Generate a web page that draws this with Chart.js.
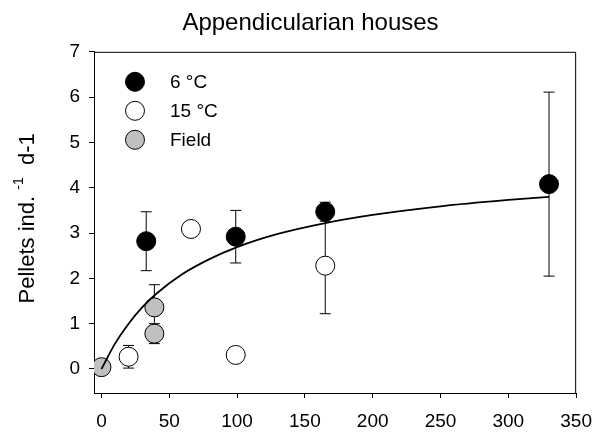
<!DOCTYPE html>
<html>
<head>
<meta charset="utf-8">
<script src="https://cdn.jsdelivr.net/npm/chart.js@4/dist/chart.umd.min.js"></script>
<style>
  body { margin: 0; background: #fff; }
  canvas { display: block; }
</style>
</head>
<body>
<canvas id="housesChart" width="604" height="435"></canvas>
<script>
// pellet production per individual and day
const coldX = [33, 99, 165, 330];
const coldY = [2.82, 2.92, 3.47, 4.08];
const coldErr = [0.65, 0.58, 0.21, 2.03];

const warmX = [20, 66, 99, 165];
const warmY = [0.27, 3.09, 0.31, 2.28];
const warmErr = [0.25, 0, 0, 1.06];

const fieldX = [0, 39, 39];
const fieldY = [0.04, 1.36, 0.78];
const fieldErr = [0, 0.5, 0.22];

// fitted saturation curve
const fitX = [0, 10, 20, 30, 40, 60, 80, 100, 130, 165, 200, 250, 300, 330];
const fitY = [0, 0.56, 1.0, 1.36, 1.65, 2.1, 2.43, 2.69, 2.98, 3.22, 3.4, 3.59, 3.73, 3.8];

const xTicks = [0, 50, 100, 150, 200, 250, 300, 350];
const yTicks = [0, 1, 2, 3, 4, 5, 6, 7];

const FONT = 'Liberation Sans, Arial, sans-serif';

function pts(xs, ys) {
    return xs.map((x, i) => ({x: x, y: ys[i]}));
}

function markers(label, xs, ys, errs, fill) {
    return {
        type: 'scatter',
        label: label,
        data: pts(xs, ys),
        errors: errs,
        backgroundColor: fill,
        borderColor: '#000',
        borderWidth: 1,
        pointRadius: 9.5,
        pointHoverRadius: 9.5,
        order: 1
    };
}

// vertical error bars, drawn under the symbols
const errorBars = {
    id: 'errorBars',
    beforeDatasetsDraw(chart) {
        const ctx = chart.ctx;
        const xs = chart.scales.x, ys = chart.scales.y;
        ctx.save();
        ctx.strokeStyle = '#000';
        ctx.lineWidth = 1;
        chart.data.datasets.forEach(ds => {
            if (!ds.errors) return;
            ds.data.forEach((p, i) => {
                const e = ds.errors[i];
                if (!e) return;
                const px = xs.getPixelForValue(p.x);
                const top = ys.getPixelForValue(p.y + e);
                const bot = ys.getPixelForValue(p.y - e);
                ctx.beginPath();
                ctx.moveTo(px, top); ctx.lineTo(px, bot);
                ctx.moveTo(px - 5.5, top); ctx.lineTo(px + 5.5, top);
                ctx.moveTo(px - 5.5, bot); ctx.lineTo(px + 5.5, bot);
                ctx.stroke();
            });
        });
        ctx.restore();
    }
};

// closes the plot box on top and right
const frame = {
    id: 'frame',
    beforeDatasetsDraw(chart) {
        const a = chart.chartArea, ctx = chart.ctx;
        ctx.save();
        ctx.strokeStyle = '#000';
        ctx.lineWidth = 1;
        ctx.beginPath();
        ctx.moveTo(a.left, a.top + 0.5);
        ctx.lineTo(a.right - 0.5, a.top + 0.5);
        ctx.lineTo(a.right - 0.5, a.bottom);
        ctx.stroke();
        ctx.restore();
    }
};

// y axis title with superscript
const yTitle = {
    id: 'yTitle',
    afterDraw(chart) {
        const ctx = chart.ctx, a = chart.chartArea;
        const main = 'Pellets ind. ', sup = '-1', tail = '  d-1';
        ctx.save();
        ctx.translate(28, (a.top + a.bottom) / 2 - 4);
        ctx.rotate(-Math.PI / 2);
        ctx.fillStyle = '#000';
        ctx.textBaseline = 'middle';
        ctx.font = '22px ' + FONT;
        const w1 = ctx.measureText(main).width;
        const w3 = ctx.measureText(tail).width;
        ctx.font = '14px ' + FONT;
        const w2 = ctx.measureText(sup).width;
        let x = -(w1 + w2 + w3) / 2;
        ctx.font = '22px ' + FONT;
        ctx.fillText(main, x, 0);
        x += w1;
        ctx.font = '14px ' + FONT;
        ctx.fillText(sup, x, -9);
        x += w2;
        ctx.font = '22px ' + FONT;
        ctx.fillText(tail, x, 0);
        ctx.restore();
    }
};

// legend in the upper left corner of the plot
const cornerLegend = {
    id: 'cornerLegend',
    afterDraw(chart) {
        const ctx = chart.ctx, a = chart.chartArea;
        const sets = chart.data.datasets.filter(d => d.errors);
        ctx.save();
        ctx.font = '19px ' + FONT;
        ctx.textBaseline = 'middle';
        sets.forEach((ds, i) => {
            const cx = a.left + 41, cy = a.top + 30 + i * 29;
            ctx.beginPath();
            ctx.arc(cx, cy, 9.5, 0, Math.PI * 2);
            ctx.fillStyle = ds.backgroundColor;
            ctx.fill();
            ctx.lineWidth = 1;
            ctx.strokeStyle = '#000';
            ctx.stroke();
            ctx.fillStyle = '#000';
            ctx.fillText(ds.label, cx + 35, cy + 1);
        });
        ctx.restore();
    }
};

const axisStyle = {
    grid: { drawOnChartArea: false, drawTicks: true, tickLength: 5, color: '#000' },
    border: { display: true, color: '#000', width: 1 }
};

new Chart(document.getElementById('housesChart'), {
    type: 'scatter',
    data: {
        datasets: [
            {
                type: 'line',
                label: 'fit',
                data: pts(fitX, fitY),
                borderColor: '#000',
                borderWidth: 1.8,
                pointRadius: 0,
                fill: false,
                cubicInterpolationMode: 'monotone',
                order: 0
            },
            markers('6 °C', coldX, coldY, coldErr, '#000'),
            markers('15 °C', warmX, warmY, warmErr, '#fff'),
            markers('Field', fieldX, fieldY, fieldErr, '#c0c0c0')
        ]
    },
    options: {
        responsive: false,
        animation: false,
        layout: { padding: { left: 36, right: 19, top: 0, bottom: 0 } },
        plugins: {
            legend: { display: false },
            tooltip: { enabled: false },
            title: {
                display: true,
                text: 'Appendicularian houses',
                color: '#000',
                font: { family: FONT, size: 24, weight: 'normal' },
                padding: { top: 9, bottom: 14 }
            }
        },
        scales: {
            x: {
                type: 'linear',
                min: -5.5,
                max: 350,
                ...axisStyle,
                afterBuildTicks: s => { s.ticks = xTicks.map(v => ({value: v})); },
                afterFit: s => { s.height = 42; },
                ticks: { color: '#000', font: { family: FONT, size: 19 }, padding: 12 }
            },
            y: {
                type: 'linear',
                min: -0.53,
                max: 7,
                ...axisStyle,
                afterBuildTicks: s => { s.ticks = yTicks.map(v => ({value: v})); },
                afterFit: s => { s.width = 58; },
                ticks: { color: '#000', font: { family: FONT, size: 19 }, padding: 9 }
            }
        }
    },
    plugins: [frame, errorBars, yTitle, cornerLegend]
});
</script>
</body>
</html>
